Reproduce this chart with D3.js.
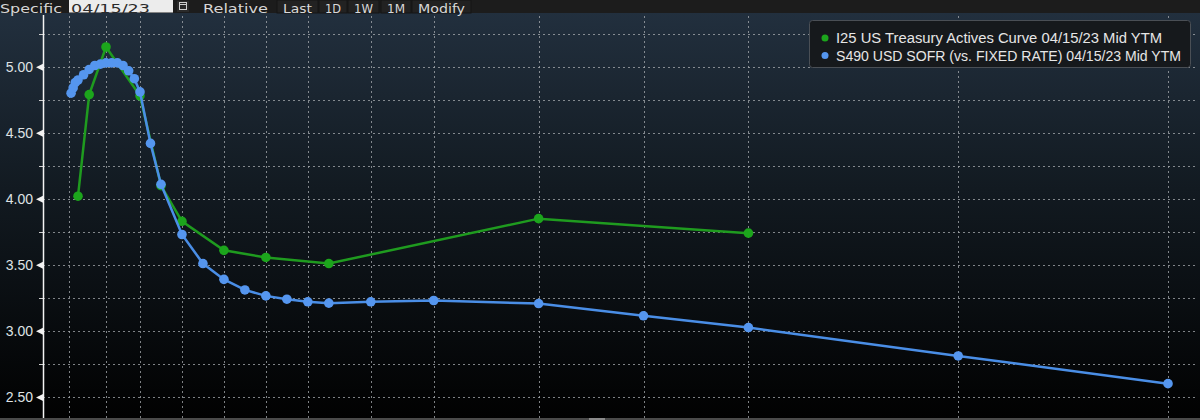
<!DOCTYPE html>
<html>
<head>
<meta charset="utf-8">
<script src="https://cdn.jsdelivr.net/npm/d3@7"></script>
<style>
  html, body { margin: 0; padding: 0; background: #000; }
  svg { display: block; }
</style>
</head>
<body>
<svg id="chart" width="1200" height="420"></svg>
<script>
// ---------------- data ----------------
const tsyTenors  = ["1M","3M","6M","1Y","2Y","3Y","5Y","7Y","10Y","20Y","30Y"];
const tsyValues  = [4.02, 4.79, 5.15, 4.78, 4.10, 3.83, 3.61, 3.556, 3.51, 3.85, 3.74];

const sofrTenors = ["1W","2W","3W","1M","2M","3M","4M","5M","6M","7M","8M","9M","10M","11M","12M","18M",
                    "2Y","3Y","4Y","5Y","6Y","7Y","8Y","9Y","10Y","12Y","15Y","20Y","25Y","30Y","40Y","50Y"];
const sofrValues = [4.80, 4.84, 4.88, 4.90, 4.94, 4.98, 5.01, 5.02, 5.03, 5.03, 5.03, 5.01, 4.97, 4.91, 4.81, 4.42,
                    4.11, 3.73, 3.51, 3.39, 3.31, 3.265, 3.24, 3.22, 3.21, 3.22, 3.23, 3.207, 3.114, 3.025, 2.81, 2.60];

const gridTenors   = ["0D","6M","1Y","3Y","5Y","7Y","9Y","12Y","15Y","20Y","25Y","30Y","40Y","50Y"];
const yMajorTicks  = [2.50, 3.00, 3.50, 4.00, 4.50, 5.00];
const yMinorTicks  = [2.75, 3.25, 3.75, 4.25, 4.75, 5.25];

const legendLabels = ["I25 US Treasury Actives Curve 04/15/23 Mid YTM",
                      "S490 USD SOFR (vs. FIXED RATE) 04/15/23 Mid YTM"];
const toolbarButtons = ["Last","1D","1W","1M","Modify"];

// ---------------- helpers ----------------
function tenorYears(t) {
  const n = parseFloat(t), u = t.slice(-1);
  if (u === "D") return n / 365;
  if (u === "W") return n / 52;
  if (u === "M") return n / 12;
  return n;
}

const W = 1200, H = 420;
const plotTop = 14, plotBottom = 418, axisX = 43, plotRight = 1195;

const svg = d3.select("#chart");
const defs = svg.append("defs");
const grad = defs.append("linearGradient").attr("id","bg").attr("x1",0).attr("y1",0).attr("x2",0).attr("y2",1);
grad.append("stop").attr("offset","0%").attr("stop-color","#233140");
grad.append("stop").attr("offset","45%").attr("stop-color","#121a21");
grad.append("stop").attr("offset","100%").attr("stop-color","#010101");

svg.append("rect").attr("x",0).attr("y",0).attr("width",W).attr("height",H).attr("fill","url(#bg)");

// scales (piecewise linear tenor axis like Bloomberg)
const x = d3.scaleLinear().domain([0, 1/12, 0.5, 1, 50]).range([69, 78, 106, 140, 1168]);
const y = d3.scaleLinear().domain([2.34, 5.40]).range([plotBottom, plotTop]);

// ---------------- grid ----------------
const grid = svg.append("g");
grid.selectAll(".hg").data(yMajorTicks.concat(yMinorTicks)).enter().append("line")
  .attr("x1", axisX).attr("x2", plotRight)
  .attr("y1", d => Math.round(y(d)) + 0.5).attr("y2", d => Math.round(y(d)) + 0.5)
  .attr("stroke", "#a8acb0").attr("stroke-opacity", 0.75).attr("stroke-width", 1)
  .attr("stroke-dasharray", "2,3");
grid.selectAll(".vg").data(gridTenors).enter().append("line")
  .attr("x1", d => Math.round(x(tenorYears(d))) + 0.5).attr("x2", d => Math.round(x(tenorYears(d))) + 0.5)
  .attr("y1", plotTop + 2).attr("y2", plotBottom)
  .attr("stroke", "#a8acb0").attr("stroke-opacity", 0.75).attr("stroke-width", 1)
  .attr("stroke-dasharray", "2,3");

// ---------------- y axis ----------------
const yAxis = d3.axisLeft(y).tickValues(yMajorTicks).tickFormat(d3.format(".2f")).tickSize(0).tickPadding(10);
const gy = svg.append("g").attr("transform", `translate(${axisX},0)`).call(yAxis);
gy.select(".domain").remove();
gy.selectAll("text").attr("fill", "#dfe2e4").attr("font-family", "Liberation Sans, Arial, sans-serif")
  .attr("font-size", 14).attr("dx", 0).attr("dy", "0.35em");
gy.selectAll(".tick").append("path").attr("d", "M0,-3.5 L-7,0 L0,3.5 Z").attr("fill", "#f2f2f2");
svg.append("g").selectAll("line").data(yMinorTicks).enter().append("line")
  .attr("x1", axisX - 4).attr("x2", axisX).attr("y1", d => Math.round(y(d)) + 0.5).attr("y2", d => Math.round(y(d)) + 0.5)
  .attr("stroke", "#cfcfcf").attr("stroke-width", 1);
svg.append("line").attr("x1", axisX + 0.5).attr("x2", axisX + 0.5).attr("y1", plotTop + 1).attr("y2", H)
  .attr("stroke", "#f4f4f4").attr("stroke-width", 1.5);

// ---------------- series ----------------
const tsy  = tsyTenors.map((t, i) => ({ t: tenorYears(t), v: tsyValues[i] }));
const sofr = sofrTenors.map((t, i) => ({ t: tenorYears(t), v: sofrValues[i] }));
const line = d3.line().x(d => x(d.t)).y(d => y(d.v));

const greenLine = "#1f9b1f", greenDot = "#1ca51c";
const blueLine = "#4a8ee6", blueDot = "#5596ef";

svg.append("path").datum(tsy).attr("d", line).attr("fill", "none").attr("stroke", greenLine).attr("stroke-width", 2.5);
svg.append("g").selectAll("circle").data(tsy).enter().append("circle")
  .attr("cx", d => x(d.t)).attr("cy", d => y(d.v)).attr("r", 4.8).attr("fill", greenDot);

svg.append("path").datum(sofr).attr("d", line).attr("fill", "none").attr("stroke", blueLine).attr("stroke-width", 2.5);
svg.append("g").selectAll("circle").data(sofr).enter().append("circle")
  .attr("cx", d => x(d.t)).attr("cy", d => y(d.v)).attr("r", 4.8).attr("fill", blueDot);

// ---------------- legend ----------------
const lg = svg.append("g");
lg.append("rect").attr("x", 809.5).attr("y", 20.5).attr("width", 381).attr("height", 47).attr("rx", 3)
  .attr("fill", "#16191c").attr("stroke", "#4a4f55").attr("stroke-width", 1);
const legendColors = [greenDot, blueDot];
const legendWidths = [326, 345];
legendLabels.forEach((lab, i) => {
  const cy = 38 + i * 17.5;
  lg.append("circle").attr("cx", 825).attr("cy", cy).attr("r", 3.5).attr("fill", legendColors[i]);
  lg.append("text").attr("x", 836).attr("y", cy + 5).text(lab)
    .attr("fill", "#e6e6e6").attr("font-family", "Liberation Sans, Arial, sans-serif").attr("font-size", 14)
    .attr("textLength", legendWidths[i]).attr("lengthAdjust", "spacingAndGlyphs");
});

// ---------------- toolbar ----------------
const tb = svg.append("g");
const tbFont = "DejaVu Sans, sans-serif";
tb.append("rect").attr("x", 0).attr("y", 0).attr("width", W).attr("height", 13).attr("fill", "#1c1c1c");
tb.append("text").attr("x", 0).attr("y", 12.5).text("Specific")
  .attr("fill", "#d6d6d6").attr("font-family", tbFont).attr("font-size", 13)
  .attr("textLength", 62).attr("lengthAdjust", "spacingAndGlyphs");
tb.append("rect").attr("x", 69).attr("y", 0).attr("width", 104).attr("height", 12.5).attr("fill", "#ececec");
tb.append("text").attr("x", 71).attr("y", 12.5).text("04/15/23")
  .attr("fill", "#2a2a2a").attr("font-family", tbFont).attr("font-size", 13)
  .attr("textLength", 79).attr("lengthAdjust", "spacingAndGlyphs");
tb.append("rect").attr("x", 177).attr("y", 1).attr("width", 12).attr("height", 11).attr("fill", "#2a2a2a");
tb.append("rect").attr("x", 179.5).attr("y", 2.5).attr("width", 7).attr("height", 7).attr("fill", "none")
  .attr("stroke", "#cfcfcf").attr("stroke-width", 1);
tb.append("line").attr("x1", 179.5).attr("x2", 186.5).attr("y1", 4.5).attr("y2", 4.5).attr("stroke", "#cfcfcf");
tb.append("text").attr("x", 203).attr("y", 12.5).text("Relative")
  .attr("fill", "#d6d6d6").attr("font-family", tbFont).attr("font-size", 13)
  .attr("textLength", 65).attr("lengthAdjust", "spacingAndGlyphs");
const btnX = [283, 325, 354, 387, 418];
const btnW = [29, 16, 19, 18, 47];
toolbarButtons.forEach((b, i) => {
  tb.append("rect").attr("x", btnX[i] - 6).attr("y", 0).attr("width", btnW[i] + 12).attr("height", 13)
    .attr("fill", "#222222").attr("stroke", "#141414").attr("stroke-width", 1);
  tb.append("text").attr("x", btnX[i]).attr("y", 12.5).text(b)
    .attr("fill", "#d9d9d9").attr("font-family", "DejaVu Sans Condensed, DejaVu Sans, sans-serif")
    .attr("font-size", 13)
    .attr("textLength", btnW[i]).attr("lengthAdjust", "spacingAndGlyphs");
});

// bottom strip / scrollbar
svg.append("rect").attr("x", 0).attr("y", 418).attr("width", W).attr("height", 2).attr("fill", "#4a4a4a");
svg.append("rect").attr("x", 589).attr("y", 418).attr("width", 16).attr("height", 2).attr("fill", "#8a8a8a");
</script>
</body>
</html>
